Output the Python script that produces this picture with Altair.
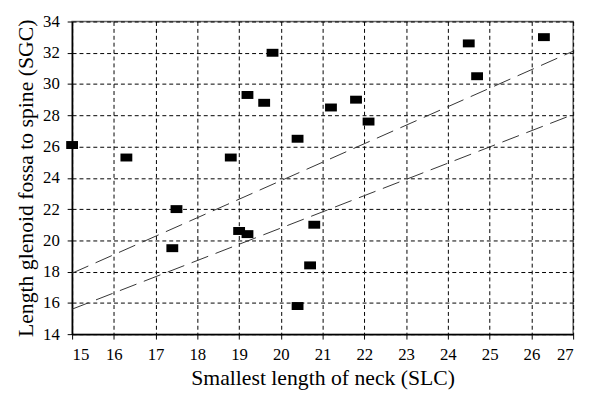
import altair as alt
import pandas as pd

slc = [15.0, 16.3, 17.4, 17.5, 18.8, 19.0, 19.2, 19.2, 19.6, 19.8,
       20.4, 20.4, 20.7, 20.8, 21.2, 21.8, 22.1, 24.5, 24.7, 26.3]
sgc = [26.1, 25.3, 19.5, 22.0, 25.3, 20.6, 20.4, 29.3, 28.8, 32.0,
       26.5, 15.8, 18.4, 21.0, 28.5, 29.0, 27.6, 32.6, 30.5, 33.0]

line_x = [15, 27]
upper_y = [17.9, 32.1]
lower_y = [15.6, 28.05]

x_ticks = list(range(15, 28))
y_ticks = list(range(14, 35, 2))

pts = pd.DataFrame({"x": slc, "y": sgc})
lines = pd.DataFrame({
    "x": line_x + line_x,
    "y": upper_y + lower_y,
    "g": ["upper", "upper", "lower", "lower"],
})

FONT = "Liberation Serif"

xs = alt.Scale(domain=[15, 27], nice=False, zero=False)
ys = alt.Scale(domain=[14, 34], nice=False, zero=False)

common = dict(grid=True, gridDash=[4, 3], gridColor="black", gridWidth=1,
              domainColor="black", domainWidth=1.5, tickColor="black",
              tickSize=5, labelFont=FONT, labelFontSize=17, labelColor="black",
              labelOverlap=False, labelPadding=8, titleFont=FONT,
              titleFontSize=22, titleFontWeight="normal", titleColor="black")

x_axis = alt.Axis(values=x_ticks, title="Smallest length of neck (SLC)",
                  titlePadding=5, **common)
y_axis = alt.Axis(values=y_ticks, title="Length glenoid fossa to spine (SGC)",
                  titlePadding=5, **common)

points = alt.Chart(pts).mark_point(
    shape="M-1,-0.67L1,-0.67L1,0.67L-1,0.67Z", filled=True, color="black",
    opacity=1, size=144
).encode(
    x=alt.X("x:Q", scale=xs, axis=x_axis),
    y=alt.Y("y:Q", scale=ys, axis=y_axis),
)

reg = alt.Chart(lines).mark_line(
    color="#333333", strokeWidth=1, strokeDash=[18, 8]
).encode(
    x=alt.X("x:Q", scale=xs, axis=x_axis),
    y=alt.Y("y:Q", scale=ys, axis=y_axis),
    detail="g:N",
)

chart = alt.layer(reg, points).properties(
    width=508, height=317,
    autosize=alt.AutoSizeParams(type="none"),
    padding={"left": 65, "top": 11, "right": 10, "bottom": 60},
    background="white",
).configure_view(stroke="#666666", strokeWidth=1.5)

chart.save("out.html", embed_options={"renderer": "svg", "actions": False})
